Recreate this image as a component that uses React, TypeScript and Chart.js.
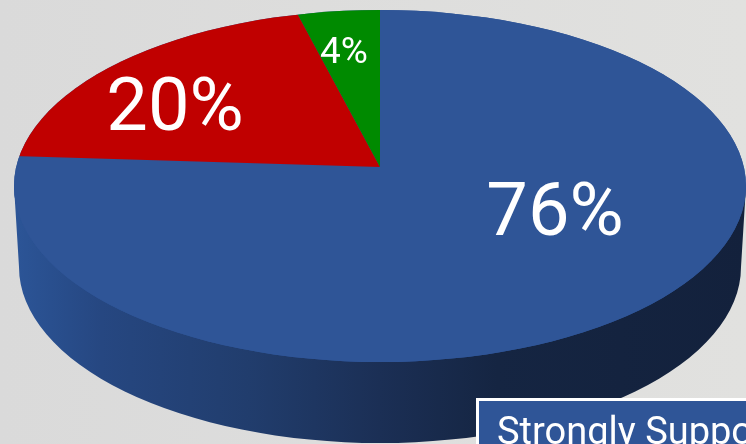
import React, { useEffect, useRef } from "react";
import { Chart, registerables } from "chart.js";

Chart.register(...registerables);

const categories = ["Strongly Support", "Somewhat Support", "Do Not Support"];
const values = [76, 20, 4];
const sliceColors = ["#2f5597", "#c00000", "#008a00"];

const W = 746;
const H = 444;
const APEX = { x: 380, y: 167 };
const TOP = { x: 380, y: 186, rx: 366, ry: 176 };
const BASE = { x: 380, y: 267, rx: 361, ry: 176 };
const REACH_X = 421;
const REACH_Y = 200.5;
const LABELS = [
  { dx: 175, dy: 42, size: 74 },
  { dx: -205, dy: -63, size: 74 },
  { dx: -36, dy: -117, size: 37 },
];

const piePerspective = {
  id: "piePerspective",
  beforeDraw(chart: any) {
    const { ctx } = chart;
    const bg = ctx.createLinearGradient(0, 0, W, 0);
    bg.addColorStop(0, "#dadada");
    bg.addColorStop(1, "#e1e1df");
    ctx.save();
    ctx.fillStyle = bg;
    ctx.fillRect(0, 0, W, H);
    ctx.restore();
  },
  beforeDatasetsDraw(chart: any) {
    const { ctx } = chart;
    const arc = chart.getDatasetMeta(0).data[0];

    // Side wall of the disc
    const wall = ctx.createLinearGradient(TOP.x - TOP.rx, 0, TOP.x + TOP.rx, 0);
    wall.addColorStop(0, "#2c5597");
    wall.addColorStop(0.05, "#294f8e");
    wall.addColorStop(0.12, "#264781");
    wall.addColorStop(0.32, "#213d6d");
    wall.addColorStop(0.5, "#1b2f55");
    wall.addColorStop(0.66, "#152542");
    wall.addColorStop(1, "#13213c");
    ctx.save();
    ctx.fillStyle = wall;
    ctx.beginPath();
    ctx.moveTo(TOP.x - TOP.rx, TOP.y);
    ctx.lineTo(BASE.x - BASE.rx, BASE.y);
    ctx.ellipse(BASE.x, BASE.y, BASE.rx, BASE.ry, 0, Math.PI, 0, true);
    ctx.lineTo(TOP.x + TOP.rx, TOP.y);
    ctx.closePath();
    ctx.fill();
    ctx.restore();

    // Top face: slices fan out from the apex and stop at the rim
    ctx.save();
    ctx.beginPath();
    ctx.ellipse(TOP.x, TOP.y, TOP.rx, TOP.ry, 0, 0, Math.PI * 2);
    ctx.fillStyle = sliceColors[0];
    ctx.fill();
    ctx.clip();
    ctx.translate(APEX.x, APEX.y);
    ctx.scale(REACH_X / arc.outerRadius, REACH_Y / arc.outerRadius);
    ctx.translate(-arc.x, -arc.y);
  },
  afterDatasetsDraw(chart: any) {
    const { ctx } = chart;
    ctx.restore();

    ctx.save();
    ctx.fillStyle = "#ffffff";
    ctx.textAlign = "center";
    ctx.textBaseline = "alphabetic";
    values.forEach((v, i) => {
      const l = LABELS[i];
      ctx.font = `400 ${l.size}px Roboto`;
      ctx.fillText(`${v}%`, APEX.x + l.dx, APEX.y + l.dy + l.size * 0.355);
    });

    // Legend box, cut off by the picture's edge
    ctx.fillStyle = "#2f5597";
    ctx.fillRect(477, 399, 300, 60);
    ctx.strokeStyle = "#ffffff";
    ctx.lineWidth = 3;
    ctx.strokeRect(477.5, 399.5, 300, 60);
    ctx.fillStyle = "#ffffff";
    ctx.textAlign = "left";
    ctx.font = "400 38px Roboto";
    ctx.fillText(categories[0], 497, 444);
    ctx.restore();
  },
};

export default function App() {
  const ref = useRef<HTMLCanvasElement>(null);
  useEffect(() => {
    const chart = new Chart(ref.current as HTMLCanvasElement, {
      type: "pie",
      data: {
        labels: categories,
        datasets: [
          {
            data: values,
            backgroundColor: sliceColors,
            borderWidth: 0,
            clip: false,
          } as any,
        ],
      },
      options: {
        animation: false,
        responsive: false,
        layout: { padding: 0 },
        plugins: { legend: { display: false }, tooltip: { enabled: false } },
      },
      plugins: [piePerspective],
    });
    return () => chart.destroy();
  }, []);
  return (
    <div style={{ position: "fixed", left: 0, top: 0, width: W, height: H, overflow: "hidden" }}>
      <canvas ref={ref} width={W} height={H} style={{ display: "block" }} />
    </div>
  );
}
